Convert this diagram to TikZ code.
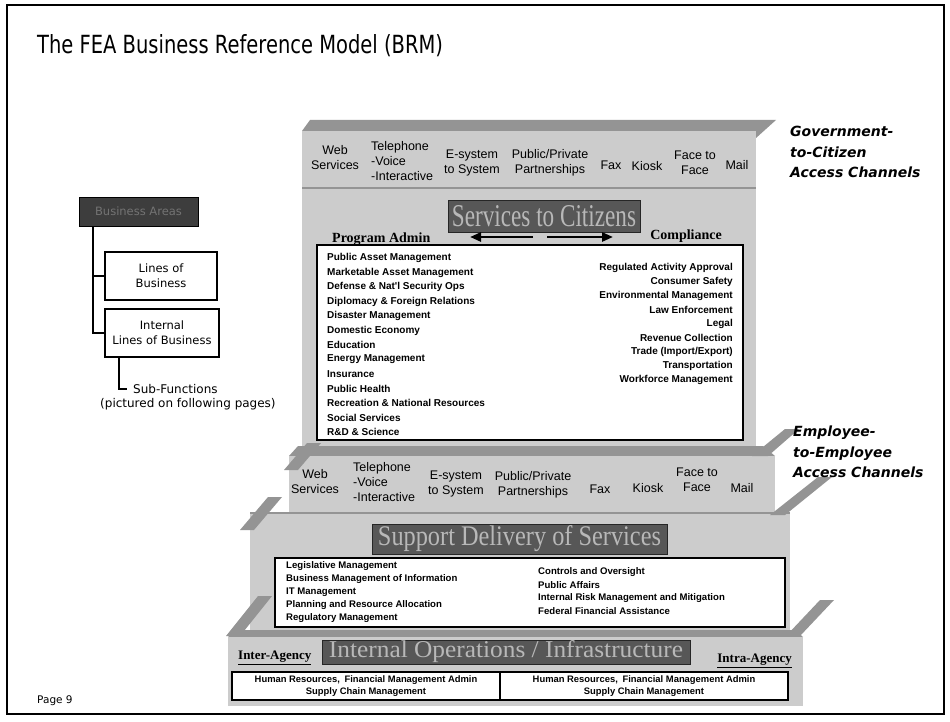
\documentclass[tikz,border=0pt]{standalone}
\usepackage{fontspec}
\setmainfont{DejaVu Sans}
\newfontfamily\arialf{Liberation Sans}
\newfontfamily\timesf{Liberation Serif}
\newfontfamily\tahomaf{DejaVu Sans}
\usetikzlibrary{arrows.meta}
\definecolor{lightfill}{gray}{0.80}
\definecolor{bandfill}{gray}{0.58}
\definecolor{stripefill}{gray}{0.58}
\definecolor{darkbox}{gray}{0.34}
\definecolor{darktext}{gray}{0.72}
\definecolor{legenddark}{gray}{0.24}
\definecolor{legendtext}{gray}{0.45}
\begin{document}
\begin{tikzpicture}[x=1pt,y=-1pt,
  chan/.style={font=\arialf\fontsize{12.5}{15}\selectfont, align=center, inner sep=0},
  chanl/.style={chan, align=left, anchor=west},
  item/.style={font=\arialf\bfseries\fontsize{10}{12}\selectfont, inner sep=0},
  sitem/.style={font=\arialf\bfseries\fontsize{9.6}{12}\selectfont, inner sep=0, anchor=west},
  dbox/.style={fill=darkbox, draw=black!85, line width=0.8, text=darktext, font=\timesf, inner sep=0},
  legtext/.style={font=\tahomaf\fontsize{12}{15}\selectfont},
  lbox/.style={draw=black, line width=1.4, fill=white, align=center, inner sep=0,
               font=\tahomaf\fontsize{11.5}{15}\selectfont},
  wbox/.style={draw=black, line width=1.4, fill=white, inner sep=0},
  access/.style={font=\tahomaf\bfseries\itshape\fontsize{14}{20.5}\selectfont, align=left, anchor=west, inner sep=0},
  head/.style={font=\timesf\bfseries\fontsize{14}{16}\selectfont, inner sep=0},
  arr/.style={line width=2.6, -{Triangle[length=11pt,width=9pt]}},
  tree/.style={line width=1.4}]
\useasboundingbox (0,0) rectangle (950,722);
\fill[white] (0,0) rectangle (950,722);

% ---------- stepped structure ----------
% top slab (G2C)
\fill[bandfill] (302,131) -- (310,120) -- (776,120) -- (756,138) -- (756,131) -- cycle;
\fill[lightfill] (302,131) rectangle (756,188);
% services wall
\fill[lightfill] (302,188) rectangle (756,447);
\draw[bandfill, line width=1.6] (302,188) -- (756,188);
% E2E slab
\fill[bandfill] (289,456) -- (298,446) -- (763,446) -- (775,456) -- cycle;
\fill[lightfill] (289,456) rectangle (775,512);
\fill[stripefill] (284,470) -- (307,443) -- (321,443) -- (298,470) -- cycle;
\fill[stripefill] (752,456) -- (785,429) -- (799,429) -- (768,456) -- cycle;
% support wall
\fill[lightfill] (250,512) rectangle (790,632);
\draw[bandfill, line width=1.6] (250,513) -- (790,513);
\fill[stripefill] (240,530) -- (268,497) -- (282,497) -- (254,530) -- cycle;
\fill[stripefill] (770,515) -- (818,477) -- (832,477) -- (785,515) -- cycle;
% base slab
\fill[bandfill] (228,637) -- (236,630) -- (795,630) -- (803,637) -- cycle;
\fill[lightfill] (228,637) rectangle (803,706);
\fill[stripefill] (226,636) -- (258,596) -- (272,596) -- (240,636) -- cycle;
\fill[stripefill] (786,636) -- (820,600) -- (834,600) -- (800,636) -- cycle;

% frame
\draw[line width=2] (7,5) rectangle (944,714);

% title
\node[anchor=west, inner sep=0, font=\tahomaf\fontsize{25}{30}\selectfont] (title) at (37,46)
  {\scalebox{0.78}[1]{The FEA Business Reference Model (BRM)}};

% ---------- legend ----------
\node[fill=legenddark, draw=black, line width=0.8, minimum width=119, minimum height=29, inner sep=0,
      text=legendtext, font=\tahomaf\fontsize{11.5}{14}\selectfont] (bizarea) at (138.5,211.5) {Business Areas};
\node[lbox, minimum width=112, minimum height=48] (lob) at (161,276) {Lines of\\Business};
\node[lbox, minimum width=114, minimum height=48] (ilob) at (162,333) {Internal\\Lines of Business};
\coordinate (t0) at (93,226);
\draw[tree] (t0) |- (lob.west);
\draw[tree] (t0) |- (ilob.west);
\coordinate (s0) at (119,357);
\coordinate (s1) at (127,389);
\draw[tree] (s0) |- (s1);
\node[anchor=west, inner sep=0, legtext] (subf) at (133,389) {Sub-Functions};
\node[anchor=west, inner sep=0, legtext] (pict) at (100,404) {(pictured on following pages)};

% ---------- G2C channels ----------
\node[chan] (gweb) at (335,158) {Web\\Services};
\node[chanl] (gtel) at (371,161) {Telephone\\-Voice\\-Interactive};
\node[chan] (gesys) at (472,163) {E-system\\to System};
\node[chan] (gppp) at (550,163) {Public/Private\\Partnerships};
\node[chan] (gfax) at (611,165) {Fax};
\node[chan] (gkiosk) at (647,166) {Kiosk};
\node[chan] (gface) at (695,163) {Face to\\Face};
\node[chan] (gmail) at (737,165) {Mail};
\node[access] (g2c) at (790,152) {Government-\\to-Citizen\\Access Channels};

% ---------- Services to Citizens ----------
\node[dbox, minimum width=192, minimum height=32] (stc) at (544,216)
  {\resizebox{184pt}{21pt}{Services to Citizens}};
\node[head, anchor=west] (padmin) at (332,239) {Program Admin};
\node[head, anchor=east] (compl) at (722,236) {Compliance};
\coordinate (la1) at (533,237); \coordinate (la2) at (470,237);
\coordinate (ra1) at (547,237); \coordinate (ra2) at (613,237);
\draw[arr] (la1) -- (la2);
\draw[arr] (ra1) -- (ra2);
\node[wbox, minimum width=426, minimum height=195] (svclist) at (530,342.5) {};
\foreach \t [count=\i] in {{Public Asset Management},{Marketable Asset Management},
  {Defense \& Nat'l Security Ops},{Diplomacy \& Foreign Relations},{Disaster Management},
  {Domestic Economy},{Education},{Energy Management},{Insurance},{Public Health},
  {Recreation \& National Resources},{Social Services},{R\&D \& Science}}
  \node[item, anchor=west] (pa\i) at (327,{258+14.5*(\i-1)}) {\t};
\foreach \t [count=\i] in {{Regulated Activity Approval},{Consumer Safety},
  {Environmental Management},{Law Enforcement},{Legal},{Revenue Collection},
  {Trade (Import/Export)},{Transportation},{Workforce Management}}
  \node[item, anchor=east] (co\i) at (733,{268+14*(\i-1)}) {\t};

% ---------- E2E channels ----------
\node[chan] (eweb) at (315,482) {Web\\Services};
\node[chanl] (etel) at (353,482) {Telephone\\-Voice\\-Interactive};
\node[chan] (eesys) at (456,484) {E-system\\to System};
\node[chan] (eppp) at (533,485) {Public/Private\\Partnerships};
\node[chan] (efax) at (600,489) {Fax};
\node[chan] (ekiosk) at (648,488) {Kiosk};
\node[chan] (eface) at (697,480) {Face to\\Face};
\node[chan] (email) at (742,488) {Mail};
\node[access] (e2e) at (793,452) {Employee-\\to-Employee\\Access Channels};

% ---------- Support Delivery of Services ----------
\node[dbox, minimum width=295, minimum height=30] (sds) at (519.5,539)
  {\resizebox{283pt}{20pt}{Support Delivery of Services}};
\node[wbox, minimum width=510, minimum height=69] (suplist) at (530,592.5) {};
\foreach \t [count=\i] in {{Legislative Management},{Business Management of Information},
  {IT Management},{Planning and Resource Allocation},{Regulatory Management}}
  \node[sitem] (sl\i) at (286,{566+13*(\i-1)}) {\t};
\foreach \t [count=\i] in {{Controls and Oversight},{Public Affairs},
  {Internal Risk Management and Mitigation},{Federal Financial Assistance}}
  \node[sitem] (sr\i) at (538,{572+13*(\i-1)}) {\t};

% ---------- Internal Operations / Infrastructure ----------
\node[dbox, minimum width=368, minimum height=24] (ioi) at (506,652)
  {\resizebox{354pt}{17pt}{Internal Operations / Infrastructure}};
\node[head, anchor=west, font=\timesf\bfseries\fontsize{13}{15}\selectfont] (inter) at (238,658) {\underline{Inter-Agency}};
\node[head, anchor=east, font=\timesf\bfseries\fontsize{13}{15}\selectfont] (intra) at (792,661) {\underline{Intra-Agency}};
\node[wbox, minimum width=268, minimum height=28, align=center,
      font=\arialf\bfseries\fontsize{9.4}{12}\selectfont] (interbox) at (366,686)
  {Human Resources,\enspace Financial Management Admin\\Supply Chain Management};
\node[wbox, minimum width=288, minimum height=28, align=center,
      font=\arialf\bfseries\fontsize{9.4}{12}\selectfont] (intrabox) at (644,686)
  {Human Resources,\enspace Financial Management Admin\\Supply Chain Management};

% page number
\node[anchor=west, inner sep=0, font=\tahomaf\fontsize{10.5}{12}\selectfont] (page) at (37,701) {Page 9};
\end{tikzpicture}
\end{document}
